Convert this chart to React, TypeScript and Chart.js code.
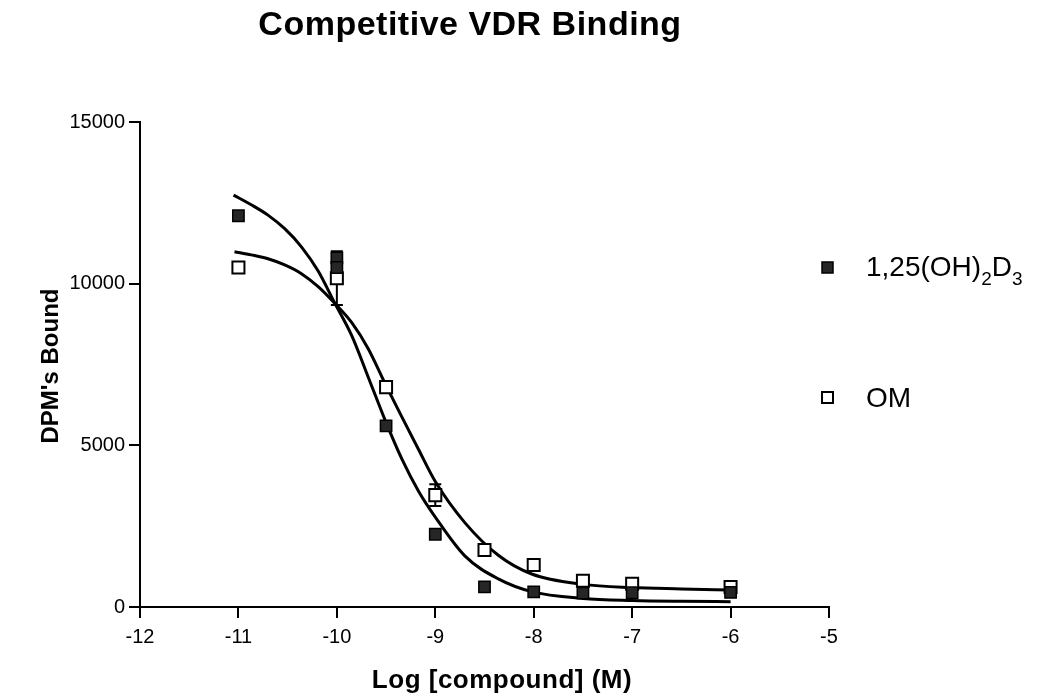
import React, { useEffect, useRef } from "react";
import { Chart, registerables } from "chart.js";

Chart.register(...registerables);

// ---- data ----
const doseD3 = [-11, -10, -10, -9.5, -9, -8.5, -8, -7.5, -7, -6];
const boundD3 = [12100, 10800, 10500, 5600, 2250, 620, 470, 430, 440, 450];

const doseOM = [-11, -10, -9.5, -9, -8.5, -8, -7.5, -7, -6];
const boundOM = [10500, 10170, 6800, 3460, 1760, 1300, 810, 720, 620];
const errOM = [0, 830, 0, 340, 0, 0, 0, 180, 0];

const fitDoseD3 = [-11.05, -10.87, -10.7, -10.53, -10.36, -10.19, -10.02, -9.85, -9.68, -9.51, -9.34, -9.17, -9.0, -8.7, -8.36, -8.02, -7.5, -7.0, -6.5, -6.0];
const fitD3 = [12740, 12440, 12120, 11700, 11140, 10390, 9390, 8400, 7100, 5780, 4580, 3580, 2780, 1580, 870, 475, 265, 200, 175, 165];

const fitDoseOM = [-11.04, -10.87, -10.7, -10.53, -10.36, -10.19, -10.02, -9.85, -9.68, -9.51, -9.34, -9.17, -9.0, -8.7, -8.36, -8.02, -7.5, -7.0, -6.5, -6.0];
const fitOM = [10990, 10890, 10770, 10580, 10310, 9910, 9390, 8800, 7980, 6910, 5880, 4870, 3880, 2610, 1600, 1020, 700, 600, 560, 525];

const xTickMin = -12;
const xTickMax = -5;
const yTickMin = 0;
const yTickMax = 15000;

const titleText = "Competitive VDR Binding";
const xTitleText = "Log [compound] (M)";
const yTitleText = "DPM's Bound";
const legendOM = "OM";

const FONT = "'Liberation Sans', Arial, Helvetica, sans-serif";

const toPts = (xs: number[], ys: number[]) => xs.map((x, i) => ({ x, y: ys[i] }));

const textPlugin = {
  id: "customText",
  beforeDatasetsDraw(chart: any) {
    // error bars (drawn behind the markers)
    const ctx = chart.ctx;
    const xs = chart.scales.x;
    const ys = chart.scales.y;
    ctx.save();
    ctx.strokeStyle = "#000";
    ctx.lineWidth = 2;
    doseOM.forEach((d, i) => {
      const e = errOM[i];
      if (!e) return;
      const px = xs.getPixelForValue(d);
      const top = ys.getPixelForValue(boundOM[i] + e);
      const bot = ys.getPixelForValue(boundOM[i] - e);
      ctx.beginPath();
      ctx.moveTo(px, top);
      ctx.lineTo(px, bot);
      ctx.moveTo(px - 6, top);
      ctx.lineTo(px + 6, top);
      ctx.moveTo(px - 6, bot);
      ctx.lineTo(px + 6, bot);
      ctx.stroke();
    });
    ctx.restore();
  },
  afterDraw(chart: any) {
    const ctx = chart.ctx;
    ctx.save();
    ctx.fillStyle = "#000";
    ctx.textBaseline = "alphabetic";

    // title
    ctx.font = `bold 34px ${FONT}`;
    ctx.textAlign = "center";
    (ctx as any).letterSpacing = "0.5px";
    ctx.fillText(titleText, 470, 35);

    // x title
    ctx.font = `bold 26px ${FONT}`;
    (ctx as any).letterSpacing = "0.5px";
    ctx.fillText(xTitleText, 502, 688);
    (ctx as any).letterSpacing = "0px";

    // y title
    ctx.save();
    ctx.translate(58, 366);
    ctx.rotate(-Math.PI / 2);
    ctx.font = `bold 24px ${FONT}`;
    ctx.textAlign = "center";
    ctx.fillText(yTitleText, 0, 0);
    ctx.restore();

    // legend
    ctx.textAlign = "left";
    ctx.fillStyle = "#262626";
    ctx.strokeStyle = "#000";
    ctx.lineWidth = 1.5;
    ctx.fillRect(822, 262, 11, 11);
    ctx.strokeRect(822, 262, 11, 11);
    ctx.fillStyle = "#fff";
    ctx.lineWidth = 2;
    ctx.fillRect(822, 392, 11, 11);
    ctx.strokeRect(822, 392, 11, 11);

    ctx.fillStyle = "#000";
    const big = `28px ${FONT}`;
    const small = `19px ${FONT}`;
    let x = 866;
    const base = 276;
    const parts: [string, boolean][] = [["1,25(OH)", false], ["2", true], ["D", false], ["3", true]];
    parts.forEach(([t, sub]) => {
      ctx.font = sub ? small : big;
      ctx.fillText(t, x, sub ? base + 9 : base);
      x += ctx.measureText(t).width;
    });
    ctx.font = big;
    ctx.fillText(legendOM, 866, 407);
    ctx.restore();
  },
};

export default function App() {
  const ref = useRef<HTMLCanvasElement | null>(null);

  useEffect(() => {
    document.body.style.margin = "0";
    const canvas = ref.current;
    if (!canvas) return;
    const chart = new Chart(canvas, {
      type: "scatter",
      data: {
        datasets: [
          {
            label: "1,25(OH)2D3",
            data: toPts(doseD3, boundD3),
            pointStyle: "rect",
            pointRadius: 8,
            pointBackgroundColor: "#262626",
            pointBorderColor: "#000",
            pointBorderWidth: 1.5,
            showLine: false,
          } as any,
          {
            label: "OM",
            data: toPts(doseOM, boundOM),
            pointStyle: "rect",
            pointRadius: 8.5,
            pointBackgroundColor: "#fff",
            pointBorderColor: "#000",
            pointBorderWidth: 2,
            showLine: false,
          } as any,
          {
            label: "fit D3",
            data: toPts(fitDoseD3, fitD3),
            showLine: true,
            pointRadius: 0,
            borderColor: "#000",
            borderWidth: 3,
            cubicInterpolationMode: "monotone",
            fill: false,
          } as any,
          {
            label: "fit OM",
            data: toPts(fitDoseOM, fitOM),
            showLine: true,
            pointRadius: 0,
            borderColor: "#000",
            borderWidth: 3,
            cubicInterpolationMode: "monotone",
            fill: false,
          } as any,
        ],
      },
      options: {
        responsive: false,
        animation: false,
        layout: { padding: { top: 122, right: 215, bottom: 0, left: 0 } },
        plugins: {
          legend: { display: false },
          title: { display: false },
          tooltip: { enabled: false },
        },
        scales: {
          x: {
            type: "linear",
            min: xTickMin,
            max: xTickMax,
            ticks: {
              stepSize: 1,
              color: "#000",
              font: { family: FONT, size: 20 },
              padding: 7,
              maxRotation: 0,
              callback: (v: any) => String(v),
            },
            grid: {
              display: true,
              drawOnChartArea: false,
              drawTicks: true,
              tickLength: 11,
              color: "#000",
              lineWidth: 2,
            },
            border: { display: true, color: "#000", width: 2 },
            afterFit: (s: any) => {
              s.height = 93;
            },
          },
          y: {
            type: "linear",
            min: yTickMin,
            max: yTickMax,
            ticks: {
              stepSize: 5000,
              color: "#000",
              font: { family: FONT, size: 20 },
              padding: 4,
              callback: (v: any) => String(v),
            },
            grid: {
              display: true,
              drawOnChartArea: false,
              drawTicks: true,
              tickLength: 11,
              color: "#000",
              lineWidth: 2,
            },
            border: { display: true, color: "#000", width: 2 },
            afterFit: (s: any) => {
              s.width = 140;
            },
          },
        },
      } as any,
      plugins: [textPlugin],
    });
    return () => chart.destroy();
  }, []);

  return (
    <div style={{ position: "absolute", left: 0, top: 0, width: 1044, height: 700, background: "#fff" }}>
      <canvas ref={ref} width={1044} height={700} style={{ display: "block", width: 1044, height: 700 }} />
    </div>
  );
}
